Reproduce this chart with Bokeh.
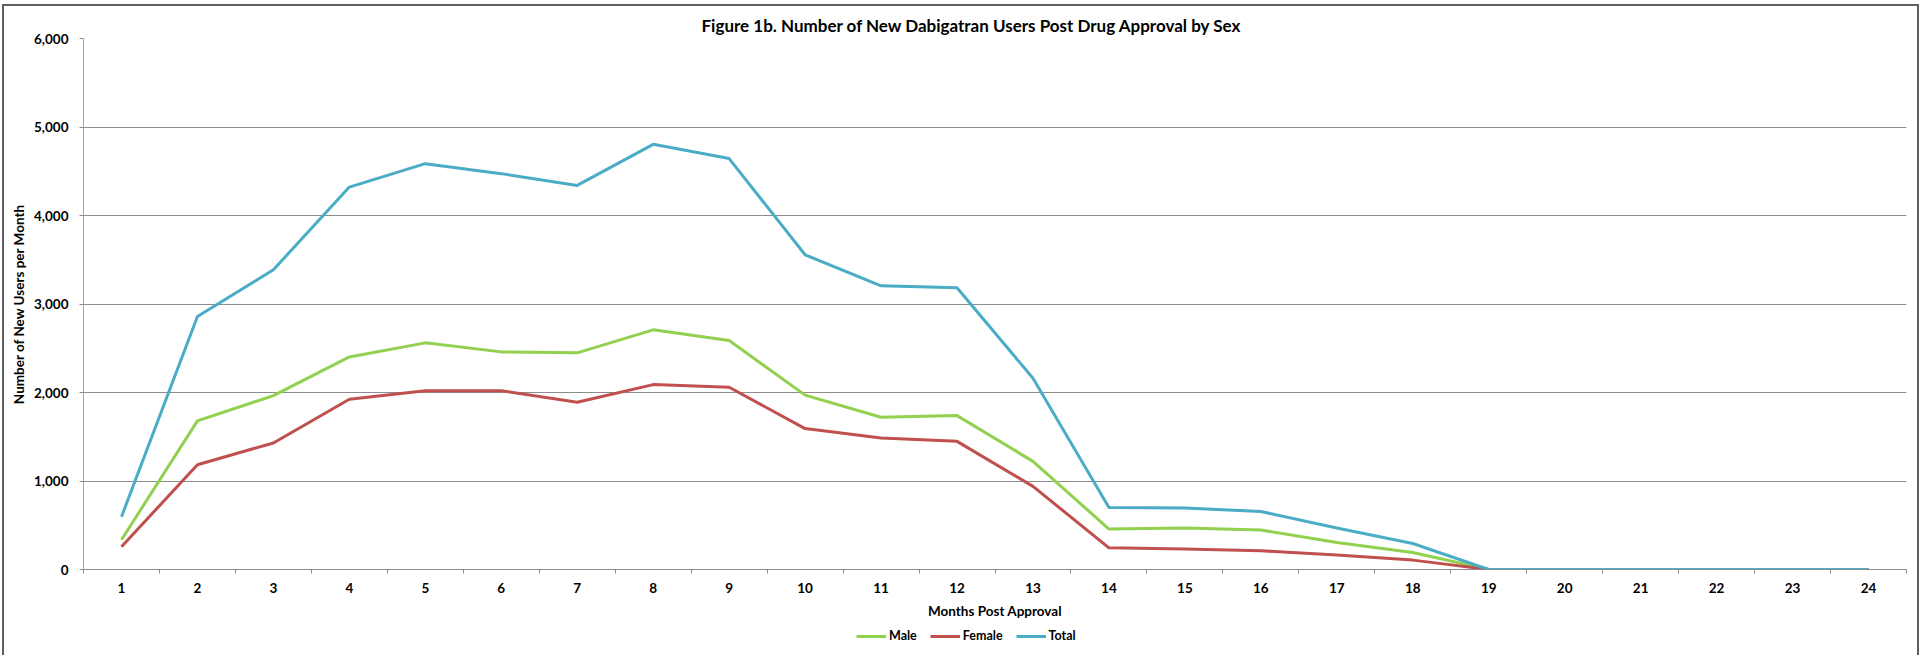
from bokeh.plotting import figure
from bokeh.layouts import column
from bokeh.models import (ColumnDataSource, FixedTicker, NumeralTickFormatter,
                          Legend, LegendItem, Range1d)
from bokeh.embed import file_html
from bokeh.resources import INLINE

# Months after approval (category axis)
months = [1, 2, 3, 4, 5, 6, 7, 8, 9, 10, 11, 12,
          13, 14, 15, 16, 17, 18, 19, 20, 21, 22, 23, 24]

# New users per month
male = [336, 1679, 1965, 2402, 2561, 2459, 2448, 2708, 2587, 1970, 1720, 1739,
        1222, 457, 468, 446, 305, 192, 0, 0, 0, 0, 0, 0]
female = [257, 1184, 1430, 1923, 2021, 2021, 1889, 2089, 2059, 1592, 1486, 1448,
          939, 245, 231, 212, 163, 106, 0, 0, 0, 0, 0, 0]
total = [596, 2859, 3387, 4321, 4586, 4473, 4340, 4804, 4643, 3556, 3206, 3183,
         2161, 700, 696, 656, 468, 294, 0, 0, 0, 0, 0, 0]

y_ticks = [0, 1000, 2000, 3000, 4000, 5000, 6000]

series_names = ["Male", "Female", "Total"]
series_colors = ["#92D050", "#C0504D", "#4BACC6"]

FONT = "Lato"
GRID = "#8C8C8C"

source = ColumnDataSource(dict(month=months, Male=male, Female=female, Total=total))

p = figure(width=1913, height=623,
           x_range=Range1d(0.5, 24.5), y_range=Range1d(0, 6000),
           output_backend="svg", toolbar_location=None,
           min_border_left=79, min_border_right=11,
           min_border_top=32, min_border_bottom=60)

p.title.text = "Figure 1b. Number of New Dabigatran Users Post Drug Approval by Sex"
p.title.align = "left"
p.title.offset = 618
p.title.standoff = 5
p.title.text_font = FONT
p.title.text_font_style = "bold"
p.title.text_font_size = "17px"
p.title.text_color = "#000000"

p.outline_line_color = None
p.background_fill_color = "white"
p.border_fill_color = "white"

# y axis
p.yaxis.ticker = FixedTicker(ticks=y_ticks)
p.yaxis.formatter = NumeralTickFormatter(format="0,0")
p.yaxis.axis_label = "Number of New Users per Month"
p.yaxis.axis_label_standoff = 4
p.yaxis.major_tick_out = 4
p.yaxis.major_tick_in = 0
p.yaxis.minor_tick_line_color = None
p.yaxis.major_label_standoff = 11
p.yaxis.axis_line_color = "#A6A6A6"
p.yaxis.major_tick_line_color = GRID

# x axis: labels at month centres, tick marks at month boundaries
bounds = [m - 0.5 for m in months] + [months[-1] + 0.5]
p.xaxis.ticker = FixedTicker(ticks=months, minor_ticks=bounds)
p.xaxis.axis_label = "Months Post Approval"
p.xaxis.axis_label_standoff = 7
p.xaxis.major_tick_out = 0
p.xaxis.major_tick_in = 0
p.xaxis.minor_tick_out = 4
p.xaxis.minor_tick_in = 0
p.xaxis.minor_tick_line_color = GRID
p.xaxis.major_label_standoff = 9
p.xaxis.axis_line_color = GRID

for ax in (p.xaxis, p.yaxis):
    ax.major_label_text_font = FONT
    ax.major_label_text_font_style = "bold"
    ax.major_label_text_font_size = "13.5px"
    ax.major_label_text_color = "#000000"
    ax.axis_label_text_font = FONT
    ax.axis_label_text_font_style = "bold"
    ax.axis_label_text_font_size = "13.5px"
    ax.axis_label_text_color = "#000000"

p.xgrid.visible = False
p.ygrid.ticker = FixedTicker(ticks=y_ticks)
p.ygrid.grid_line_color = GRID
p.ygrid.grid_line_width = 1

for name, color in zip(series_names, series_colors):
    p.line("month", name, source=source, line_color=color, line_width=3,
           line_join="round")

# legend strip under the chart
key = figure(width=1913, height=26, x_range=Range1d(0, 1), y_range=Range1d(0, 1),
             output_backend="svg", toolbar_location=None,
             x_axis_location=None, y_axis_location=None,
             min_border=0, outline_line_color=None)
key.grid.visible = False

items = []
for name, color in zip(series_names, series_colors):
    r = key.line("month", name, source=source, line_color=color, line_width=3,
                 visible=False)
    items.append(LegendItem(label=name, renderers=[r]))

legend = Legend(items=items, orientation="horizontal", location=(773, 12),
                glyph_width=30, glyph_height=14, label_height=14,
                label_standoff=3, spacing=13,
                padding=0, margin=0, border_line_color=None,
                background_fill_alpha=0, inactive_fill_alpha=0,
                label_text_font=FONT, label_text_font_style="bold",
                label_text_font_size="12.5px", label_text_color="#000000")
key.add_layout(legend)

# chart-area frame drawn around the whole chart
page = column(p, key, spacing=0,
              styles={"margin-left": "2px", "margin-top": "4px",
                      "border-left": "2px solid #5f5f5f",
                      "border-top": "2px solid #5f5f5f",
                      "border-right": "2px solid #5f5f5f"})

open("out.html", "w").write(file_html(page, INLINE))
